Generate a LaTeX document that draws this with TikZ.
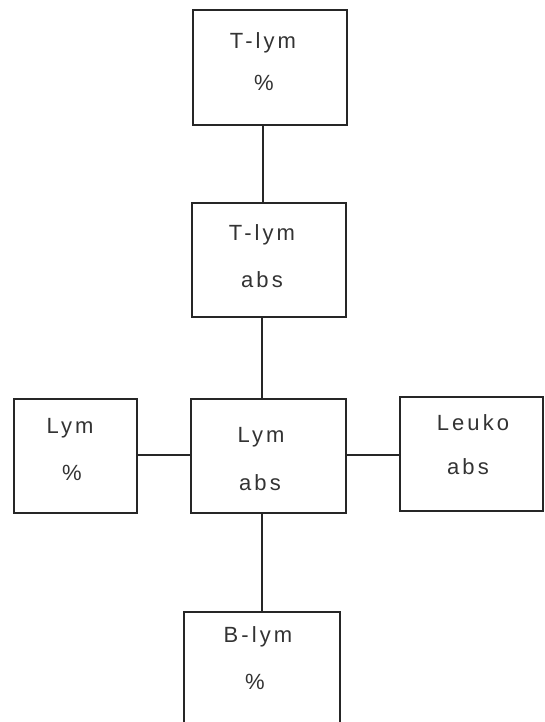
\documentclass[tikz,border=0pt]{standalone}
\usepackage{fontspec}
\setmainfont{Liberation Sans}[LetterSpace=14]
\begin{document}
\begin{tikzpicture}[x=1pt,y=-1pt,
  box/.style={draw=black!85, line width=1.8pt, rectangle, inner sep=0pt},
  lbl/.style={text=black!80, font=\fontsize{22}{25}\selectfont, inner sep=0pt},
  link/.style={draw=black!85, line width=1.8pt}]
\useasboundingbox[fill=white] (0,0) rectangle (545,722);

% boxes
\node[box, minimum width=154pt, minimum height=115pt] (tp) at (270,67.5) {};
\node[box, minimum width=154pt, minimum height=114pt] (ta) at (269,260) {};
\node[box, minimum width=155pt, minimum height=114pt] (la) at (268.5,456) {};
\node[box, minimum width=123pt, minimum height=114pt] (lp) at (75.5,456) {};
\node[box, minimum width=143pt, minimum height=114pt] (le) at (471.5,454) {};
\node[box, minimum width=156pt, minimum height=118pt] (bp) at (262,671) {};

% labels
\node[lbl] (tp1) at (263,43) {T-lym};
\node[lbl] (tp2) at (264,83) {\%};
\node[lbl] (ta1) at (262,235) {T-lym};
\node[lbl] (ta2) at (262,280) {abs};
\node[lbl] (la1) at (261,437) {Lym};
\node[lbl] (la2) at (260,483) {abs};
\node[lbl] (lp1) at (70,428) {Lym};
\node[lbl] (lp2) at (72,473) {\%};
\node[lbl] (le1) at (473,423) {Leuko};
\node[lbl] (le2) at (468,467) {abs};
\node[lbl] (bp1) at (258,637) {B-lym};
\node[lbl] (bp2) at (255,682) {\%};

% connectors
\draw[link] ([xshift=-7pt]tp.south) -- ([xshift=-6pt]ta.north);
\draw[link] ([xshift=-7pt]ta.south) -- ([xshift=-6.5pt]la.north);
\draw[link] ([xshift=-6.5pt]la.south) -- (bp.north);
\draw[link] ([yshift=1pt]lp.east) -- ([yshift=1pt]la.west);
\draw[link] ([yshift=1pt]la.east) -- ([yshift=-1pt]le.west);
\end{tikzpicture}
\end{document}
